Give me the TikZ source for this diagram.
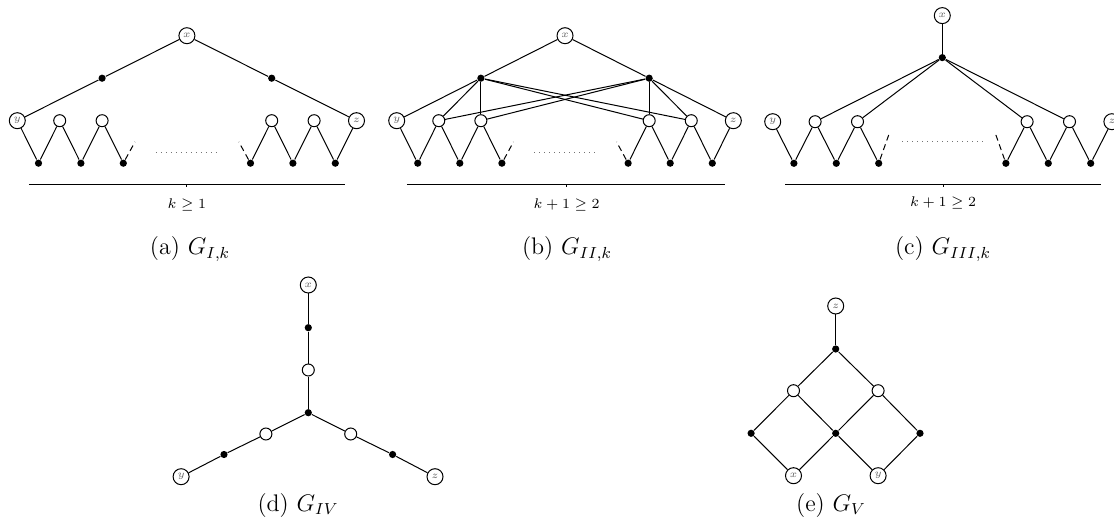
\documentclass[tikz,border=0pt]{standalone}

\tikzset{
  lab/.style={circle, draw, fill=white, inner sep=0pt, minimum size=8pt,
    text=black!60, font=\fontsize{3.6}{4}\selectfont},
  wv/.style={circle, draw, fill=white, inner sep=0pt, minimum size=6pt},
  bv/.style={circle, fill=black, inner sep=0pt, minimum size=3.6pt},
  stub/.style={densely dashed},
  gap/.style={dotted, black!55},
  cnt/.style={font=\scriptsize},
  capt/.style={anchor=base, font=\large},
}

\begin{document}
\begin{tikzpicture}[x=0.5pt, y=-0.5pt, line width=0.5pt]
  \useasboundingbox (0,0) rectangle (1114,529);

  % ---- (a) G_{I,k} ----
  \begin{scope}[shift={(17.3,120.7)}, x=10.6pt, y=-21.25pt]
    \node[lab] (ay) at (0,0) {$y$};
    \node[lab] (az) at (16,0) {$z$};
    \node[lab] (ax) at (8,-2) {$x$};
    \node[bv] (am4) at (4,-1) {};
    \node[bv] (am12) at (12,-1) {};
    \foreach \c in {2,4,12,14} \node[wv] (aw\c) at (\c,0) {};
    \foreach \c in {1,3,5,11,13,15} \node[bv] (ab\c) at (\c,1) {};
    \coordinate (as5) at (5.55,0.5);
    \coordinate (as11) at (10.45,0.5);
    \draw (ay) -- (am4) -- (ax) -- (am12) -- (az);
    \draw (ay) -- (ab1) -- (aw2) -- (ab3) -- (aw4) -- (ab5);
    \draw (ab11) -- (aw12) -- (ab13) -- (aw14) -- (ab15) -- (az);
    \draw[stub] (ab5) -- (as5);
    \draw[stub] (ab11) -- (as11);
    \draw[gap] (6.54,0.75) -- (9.47,0.75);
    % counting bar
    \coordinate (abl) at (0.55,1.51);
    \coordinate (abr) at (15.45,1.51);
    \draw (abl) -- (abr);
    \draw (8,1.51) -- (8,1.55);
    \node[cnt] (ak) at (8,1.99) {$k \geq 1$};
  \end{scope}

  % ---- (b) G_{II,k} ----
  \begin{scope}[shift={(396.7,120.7)}, x=10.52pt, y=-21.25pt]
    \node[lab] (by) at (0,0) {$y$};
    \node[lab] (bz) at (16,0) {$z$};
    \node[lab] (bx) at (8,-2) {$x$};
    \node[bv] (bm4) at (4,-1) {};
    \node[bv] (bm12) at (12,-1) {};
    \foreach \c in {2,4,12,14} \node[wv] (bw\c) at (\c,0) {};
    \foreach \c in {1,3,5,11,13,15} \node[bv] (bb\c) at (\c,1) {};
    \coordinate (bs5) at (5.55,0.5);
    \coordinate (bs11) at (10.45,0.5);
    \draw (by) -- (bm4) -- (bx) -- (bm12) -- (bz);
    \foreach \c in {2,4,12,14} {
      \draw (bm4) -- (bw\c);
      \draw (bm12) -- (bw\c);
    }
    \draw (by) -- (bb1) -- (bw2) -- (bb3) -- (bw4) -- (bb5);
    \draw (bb11) -- (bw12) -- (bb13) -- (bw14) -- (bb15) -- (bz);
    \draw[stub] (bb5) -- (bs5);
    \draw[stub] (bb11) -- (bs11);
    \draw[gap] (6.54,0.75) -- (9.47,0.75);
    % counting bar
    \coordinate (bbl) at (0.48,1.51);
    \coordinate (bbr) at (15.58,1.51);
    \draw (bbl) -- (bbr);
    \draw (8.08,1.51) -- (8.08,1.55);
    \node[cnt] (bk) at (8.08,1.99) {$k+1 \geq 2$};
  \end{scope}

  % ---- (c) G_{III,k} ----
  \begin{scope}[shift={(772.7,121.7)}, x=10.6pt, y=-20.8pt]
    \node[lab] (cy) at (0,0) {$y$};
    \node[lab] (cz) at (16,0) {$z$};
    \node[lab] (cx) at (8,-2.55) {$x$};
    \node[bv] (ch) at (8,-1.54) {};
    \foreach \c in {2,4,12,14} \node[wv] (cw\c) at (\c,0) {};
    \foreach \c in {1,3,5,11,13,15} \node[bv] (cb\c) at (\c,1) {};
    \coordinate (cs5) at (5.52,0.25);
    \coordinate (cs11) at (10.48,0.25);
    \draw (cx) -- (ch);
    \foreach \c in {2,4,12,14} \draw (ch) -- (cw\c);
    \draw (cy) -- (cb1) -- (cw2) -- (cb3) -- (cw4) -- (cb5);
    \draw (cb11) -- (cw12) -- (cb13) -- (cw14) -- (cb15) -- (cz);
    \draw[stub] (cb5) -- (cs5);
    \draw[stub] (cb11) -- (cs11);
    \draw[gap] (6.1,0.48) -- (10.07,0.48);
    % counting bar
    \coordinate (cbl) at (0.58,1.52);
    \coordinate (cbr) at (15.5,1.52);
    \draw (cbl) -- (cbr);
    \draw (8.04,1.52) -- (8.04,1.56);
    \node[cnt] (ck) at (8.04,1.96) {$k+1 \geq 2$};
  \end{scope}

  % ---- (d) G_{IV} ----
  \begin{scope}[shift={(308.3,412.7)}]
    \node[lab] (dx) at (0,-127.7) {$x$};
    \node[bv] (db1) at (0,-85) {};
    \node[wv] (dw1) at (0,-42.7) {};
    \node[bv] (dc) at (0,0) {};
    \node[wv] (dw2) at (-42.4,21.3) {};
    \node[bv] (db2) at (-84.3,41.8) {};
    \node[lab] (dy) at (-127.2,64) {$y$};
    \node[wv] (dw3) at (42.4,21.3) {};
    \node[bv] (db3) at (84.3,41.8) {};
    \node[lab] (dz) at (126.7,64) {$z$};
    \draw (dx) -- (db1) -- (dw1) -- (dc);
    \draw (dc) -- (dw2) -- (db2) -- (dy);
    \draw (dc) -- (dw3) -- (db3) -- (dz);
  \end{scope}

  % ---- (e) G_V ----
  \begin{scope}[shift={(835.7,433.3)}]
    \node[lab] (ez) at (0,-127.3) {$z$};
    \node[bv] (et) at (0,-84.3) {};
    \node[wv] (ewl) at (-42.2,-42.6) {};
    \node[wv] (ewr) at (42.4,-42.6) {};
    \node[bv] (ebl) at (-84.6,0) {};
    \node[bv] (ebc) at (0,0) {};
    \node[bv] (ebr) at (84.3,0) {};
    \node[lab] (ex) at (-42.2,42.4) {$x$};
    \node[lab] (ey) at (42.4,42.4) {$y$};
    \draw (ez) -- (et);
    \draw (ebl) -- (ewl) -- (et) -- (ewr) -- (ebr);
    \draw (ewl) -- (ebc) -- (ewr);
    \draw (ebl) -- (ex) -- (ebc) -- (ey) -- (ebr);
  \end{scope}

  % ---- captions ----
  \node[capt] (capa) at (190,255) {(a) $G_{I,k}$};
  \node[capt] (capb) at (567,255) {(b) $G_{II,k}$};
  \node[capt] (capc) at (943,255) {(c) $G_{III,k}$};
  \node[capt] (capd) at (298,511) {(d) $G_{IV}$};
  \node[capt] (cape) at (831,511) {(e) $G_{V}$};

\end{tikzpicture}
\end{document}
